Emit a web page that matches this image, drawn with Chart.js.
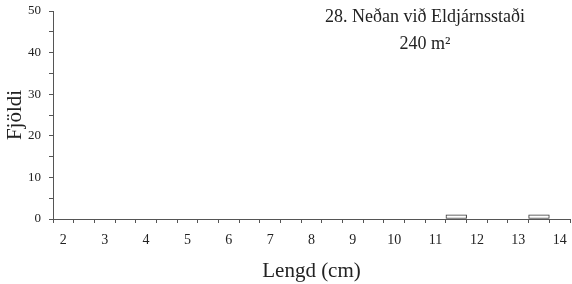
<!DOCTYPE html>
<html>
<head>
<meta charset="utf-8">
<script src="https://cdn.jsdelivr.net/npm/chart.js@4"></script>
<style>
  html, body { margin: 0; padding: 0; background: #fff; }
  #wrap { width: 572px; height: 284px; }
</style>
</head>
<body>
<div id="wrap"><canvas id="graf" width="572" height="284"></canvas></div>
<script>
// lengdarflokkar (cm), hálfs cm bil
const lengd = ['2', '2.5', '3', '3.5', '4', '4.5', '5', '5.5', '6', '6.5', '7', '7.5', '8',
               '8.5', '9', '9.5', '10', '10.5', '11', '11.5', '12', '12.5', '13', '13.5', '14'];
const fjoldi = [0, 0, 0, 0, 0, 0, 0, 0, 0, 0, 0, 0, 0,
                0, 0, 0, 0, 0, 0, 1, 0, 0, 0, 1, 0];
const titill = ['28. Neðan við Eldjárnsstaði', '240 m²'];

const serif = 'Liberation Serif';
const axisColor = '#555';

const titillPlugin = {
  id: 'titill',
  afterDraw(chart) {
    const ctx = chart.ctx;
    ctx.save();
    ctx.fillStyle = '#222';
    ctx.font = '18px "' + serif + '"';
    ctx.textAlign = 'center';
    ctx.textBaseline = 'middle';
    ctx.fillText(titill[0], 425, 17);
    ctx.fillText(titill[1], 425, 44);
    ctx.restore();
  }
};

new Chart(document.getElementById('graf'), {
  type: 'bar',
  data: {
    labels: lengd,
    datasets: [{
      data: fjoldi,
      backgroundColor: '#fff',
      borderColor: '#333',
      borderWidth: 1,
      borderSkipped: false,
      barPercentage: 1,
      categoryPercentage: 1
    }]
  },
  options: {
    responsive: false,
    animation: false,
    layout: { padding: { top: 11, right: 2, left: 3, bottom: 0 } },
    plugins: { legend: { display: false }, tooltip: { enabled: false } },
    scales: {
      x: {
        offset: true,
        grid: { offset: true, drawOnChartArea: false, tickLength: 4, color: axisColor },
        border: { color: axisColor },
        ticks: {
          autoSkip: false,
          maxRotation: 0,
          padding: 9,
          color: '#222',
          font: { family: serif, size: 14 },
          callback: function(value) {
            const l = lengd[value];
            return l.includes('.') ? '' : l;
          }
        },
        title: {
          display: true,
          text: 'Lengd (cm)',
          color: '#222',
          font: { family: serif, size: 21 },
          padding: { top: 2, bottom: 0 }
        },
        afterFit(scale) {
          scale.height = 65;
          scale.paddingLeft = 0;
          scale.paddingRight = 0;
        }
      },
      y: {
        min: 0,
        max: 50,
        grid: { drawOnChartArea: false, tickLength: 4, color: axisColor },
        border: { color: axisColor },
        ticks: {
          stepSize: 5,
          padding: 8,
          color: '#222',
          font: { family: serif, size: 13 },
          callback: v => (v % 10 === 0 ? v : '')
        },
        title: {
          display: true,
          text: 'Fjöldi',
          color: '#222',
          font: { family: serif, size: 21 },
          padding: { top: 0, bottom: 2 }
        },
        afterFit(scale) {
          scale.width = 50;
          scale.paddingTop = 0;
          scale.paddingBottom = 0;
        }
      }
    }
  },
  plugins: [titillPlugin]
});
</script>
</body>
</html>
